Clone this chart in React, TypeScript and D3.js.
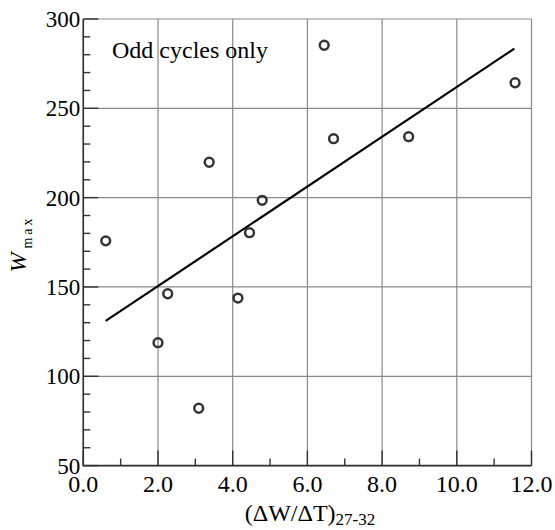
import { useEffect, useRef } from "react";
import * as d3 from "d3";

// rate of rise (x) against cycle maximum (y), odd cycles
const riseRate = [0.6, 2.0, 2.26, 3.09, 3.37, 4.14, 4.45, 4.79, 6.45, 6.7, 8.71, 11.56];
const maxAmplitude = [175.8, 118.8, 146.2, 82.1, 219.8, 143.8, 180.4, 198.5, 285.3, 233, 234.1, 264.3];

// least squares line as drawn in the figure (endpoints)
const fitX = [0.6, 11.54];
const fitY = [131, 283.4];

const xTicks = [0, 2, 4, 6, 8, 10, 12];
const yTicks = [50, 100, 150, 200, 250, 300];

const W = 555;
const H = 530;
const margin = { top: 19, right: 23.5, bottom: 64.4, left: 83.3 };
const FONT =
  '"Liberation Serif", "Times New Roman", Times, "Noto Serif", "DejaVu Serif", FreeSerif, "Nimbus Roman", Georgia, serif';

export default function App() {
  const hostRef = useRef<SVGSVGElement | null>(null);

  useEffect(() => {
    if (!hostRef.current) return;
    const svg = d3.select(hostRef.current);
    svg.selectAll("*").remove();

    const x = d3.scaleLinear().domain([0, 12]).range([margin.left, W - margin.right]);
    const y = d3.scaleLinear().domain([50, 300]).range([H - margin.bottom, margin.top]);
    const [x0, x1] = x.range();
    const [y0, y1] = y.range();

    const grid = svg.append("g").attr("stroke", "#8a8a8a").attr("stroke-width", 1.2);
    xTicks.forEach((t) => {
      grid.append("line").attr("x1", x(t)).attr("x2", x(t)).attr("y1", y0).attr("y2", y1);
    });
    yTicks.forEach((t) => {
      grid.append("line").attr("y1", y(t)).attr("y2", y(t)).attr("x1", x0).attr("x2", x1);
    });

    // ticks: major 15px, minor 7px, pointing inward
    const ticks = svg.append("g").attr("stroke", "#333").attr("stroke-width", 1.4);
    d3.range(0, 12.01, 1).forEach((t) => {
      const len = t % 2 === 0 ? 15 : 7;
      ticks.append("line").attr("x1", x(t)).attr("x2", x(t)).attr("y1", y0).attr("y2", y0 - len);
    });
    d3.range(50, 300.01, 10).forEach((t) => {
      const len = t % 50 === 0 ? 15 : 7;
      ticks.append("line").attr("y1", y(t)).attr("y2", y(t)).attr("x1", x0).attr("x2", x0 + len);
    });

    svg
      .append("path")
      .attr("d", `M${x0},${y1}V${y0}H${x1}`)
      .attr("fill", "none")
      .attr("stroke", "#333")
      .attr("stroke-width", 1.6);

    svg
      .append("line")
      .attr("x1", x(fitX[0]))
      .attr("y1", y(fitY[0]))
      .attr("x2", x(fitX[1]))
      .attr("y2", y(fitY[1]))
      .attr("stroke", "#000")
      .attr("stroke-width", 2.2);

    svg
      .append("g")
      .selectAll("circle")
      .data(riseRate.map((v, i) => [v, maxAmplitude[i]]))
      .join("circle")
      .attr("cx", (d) => x(d[0]))
      .attr("cy", (d) => y(d[1]))
      .attr("r", 4.4)
      .attr("fill", "none")
      .attr("stroke", "#333")
      .attr("stroke-width", 2.5);

    const labels = svg.append("g").attr("font-family", FONT).attr("fill", "#000");
    xTicks.forEach((t) => {
      labels
        .append("text")
        .attr("x", x(t))
        .attr("y", y0 + 26)
        .attr("text-anchor", "middle")
        .attr("font-size", 24)
        .text(t.toFixed(1));
    });
    yTicks.forEach((t) => {
      labels
        .append("text")
        .attr("x", x0 - 3)
        .attr("y", y(t) + 8)
        .attr("text-anchor", "end")
        .attr("font-size", 23)
        .text(t);
    });

    labels
      .append("text")
      .attr("x", 112)
      .attr("y", 58)
      .attr("font-size", 24)
      .text("Odd cycles only");

    const xt = labels.append("text").attr("x", 310).attr("y", 521).attr("text-anchor", "middle").attr("font-size", 24);
    xt.append("tspan").text("(ΔW/ΔT)");
    xt.append("tspan").attr("font-size", 17).attr("dy", 4).text("27-32");

    const yt = labels
      .append("text")
      .attr("transform", "translate(26,244) rotate(-90)")
      .attr("text-anchor", "middle")
      .attr("font-size", 24);
    yt.append("tspan").attr("font-style", "italic").text("W");
    yt.append("tspan").attr("font-size", 14).attr("dy", 6).attr("dx", 4).attr("letter-spacing", 3).text("max");
  }, []);

  return (
    <svg
      ref={hostRef}
      width={W}
      height={H}
      viewBox={`0 0 ${W} ${H}`}
      style={{ position: "absolute", left: 0, top: 0, display: "block", background: "#fff" }}
    />
  );
}
